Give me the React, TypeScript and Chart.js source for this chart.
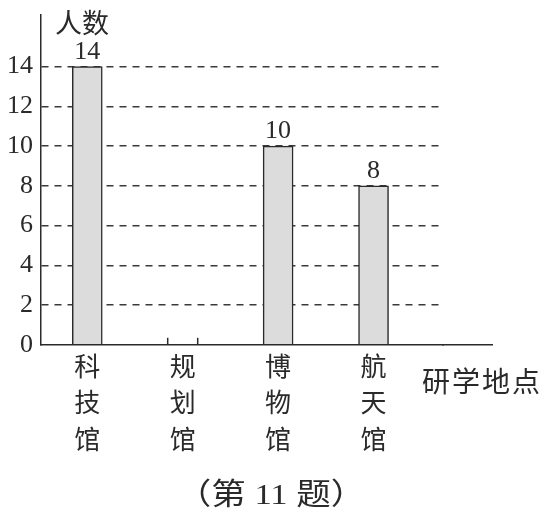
import { useEffect, useRef } from 'react'
import { Chart, registerables } from 'chart.js'

Chart.register(...registerables)

// dados (规划馆 fica em branco no original)
const categories = ['科技馆', '规划馆', '博物馆', '航天馆']
const counts: (number | null)[] = [14, null, 10, 8]
const yTickValues = [0, 2, 4, 6, 8, 10, 12, 14]

const yTitle = '人数'
const xTitle = '研学地点'
const caption = '（第 11 题）'

const INK = '#2a2a2a'
const FONT = "'Liberation Serif', 'Noto Sans CJK SC', serif"
const BAR_W = 30

const extras = {
  id: 'extras',
  afterDatasetsDraw(chart: any) {
    const { ctx, chartArea, scales } = chart
    const meta = chart.getDatasetMeta(0)
    ctx.save()
    ctx.fillStyle = INK
    ctx.strokeStyle = INK
    ctx.font = `26px ${FONT}`
    ctx.textAlign = 'center'
    ctx.textBaseline = 'alphabetic'
    meta.data.forEach((bar: any, i: number) => {
      const v = counts[i]
      if (v == null) return
      ctx.fillText(String(v), bar.x, bar.y - 8)
    })
    // marcas do retângulo em branco
    ctx.lineWidth = 1.5
    counts.forEach((v, i) => {
      if (v != null) return
      const cx = scales.x.getPixelForValue(i + 1)
      ;[cx - BAR_W / 2, cx + BAR_W / 2].forEach((x) => {
        ctx.beginPath()
        ctx.moveTo(x, chartArea.bottom)
        ctx.lineTo(x, chartArea.bottom - 7)
        ctx.stroke()
      })
    })
    ctx.restore()
  },
  afterDraw(chart: any) {
    const { ctx, chartArea, scales } = chart
    ctx.save()
    ctx.strokeStyle = INK
    ctx.lineWidth = 1.5
    ctx.beginPath()
    ctx.moveTo(chartArea.right - 1, scales.x.top)
    ctx.lineTo(chartArea.right + 50, scales.x.top)
    ctx.stroke()

    ctx.fillStyle = INK
    ctx.textAlign = 'left'
    ctx.textBaseline = 'middle'
    ctx.font = `27px ${FONT}`
    ctx.fillText(yTitle, chartArea.left + 14, chartArea.top + 11)
    ctx.font = `28px ${FONT}`
    ;(ctx as any).letterSpacing = '2px'
    ctx.fillText(xTitle, chartArea.right - 21, chartArea.bottom + 40)
    ctx.restore()
  },
}

export default function App() {
  const chartRef = useRef<HTMLCanvasElement>(null)
  const chartInstance = useRef<Chart | null>(null)

  useEffect(() => {
    if (!chartRef.current) return
    if (chartInstance.current) chartInstance.current.destroy()

    const ctx = chartRef.current.getContext('2d')
    if (!ctx) return

    chartInstance.current = new Chart(ctx, {
      type: 'bar',
      data: {
        datasets: [
          {
            label: yTitle,
            data: categories.map((_, i) => ({ x: i + 1, y: counts[i] })) as any,
            backgroundColor: '#dcdcdc',
            borderColor: INK,
            borderWidth: 1.5,
            barThickness: BAR_W,
          },
        ],
      },
      options: {
        responsive: true,
        maintainAspectRatio: false,
        animation: false,
        layout: { padding: { top: 15, right: 103, left: 0, bottom: 4 } },
        plugins: {
          legend: { display: false },
          tooltip: { enabled: false },
        },
        scales: {
          x: {
            type: 'linear',
            offset: false,
            min: 0.515,
            max: 4.728,
            afterBuildTicks: (scale: any) => {
              scale.ticks = categories.map((_, i) => ({ value: i + 1 }))
            },
            afterFit: (scale: any) => {
              scale.paddingLeft = 0
              scale.paddingRight = 0
            },
            grid: { display: false, drawTicks: false },
            border: { color: INK, width: 1.5 },
            ticks: {
              padding: 6,
              color: INK,
              font: { family: FONT, size: 26, lineHeight: 1.4 },
              maxRotation: 0,
              autoSkip: false,
              callback: (value: any) => {
                const name = categories[Number(value) - 1]
                return name ? name.split('') : ''
              },
            },
          },
          y: {
            min: 0,
            max: 16.6,
            afterBuildTicks: (scale: any) => {
              scale.ticks = yTickValues.map((v) => ({ value: v }))
            },
            afterFit: (scale: any) => {
              scale.width = 41
              scale.paddingTop = 0
              scale.paddingBottom = 0
            },
            grid: {
              drawTicks: false,
              lineWidth: 1.5,
              color: (c: any) => (c.tick && c.tick.value > 0 ? '#3a3a3a' : 'rgba(0,0,0,0)'),
            },
            border: { color: INK, width: 1.5, dash: [7, 6] },
            ticks: {
              padding: 8,
              color: INK,
              font: { family: FONT, size: 26 },
            },
          },
        },
      },
      plugins: [extras],
    })

    return () => {
      if (chartInstance.current) {
        chartInstance.current.destroy()
        chartInstance.current = null
      }
    }
  }, [])

  return (
    <div style={{ position: 'fixed', left: 0, top: 0, width: 546, height: 513, background: '#fff' }}>
      <div style={{ position: 'absolute', left: 0, top: 0, width: 546, height: 470 }}>
        <canvas ref={chartRef} />
      </div>
      <div
        style={{
          position: 'absolute',
          left: 0,
          top: 477,
          width: 542,
          height: 34,
          lineHeight: '34px',
          textAlign: 'center',
          fontSize: 30,
          fontFamily: FONT,
          fontFeatureSettings: '"halt"',
          color: INK,
          transform: 'scaleX(1.15)',
          transformOrigin: '271px 17px',
        }}
      >
        {caption}
      </div>
    </div>
  )
}
